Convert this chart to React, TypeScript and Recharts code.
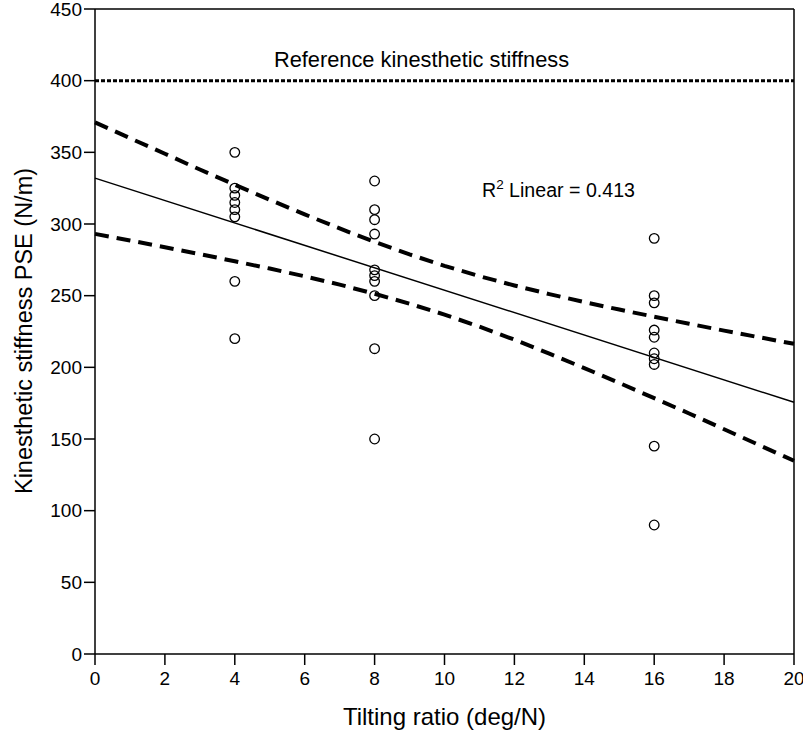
import React from 'react';
import { ComposedChart, XAxis, YAxis, Line, Scatter, ReferenceLine } from 'recharts';

// Tilting ratio groups and observed PSE values (N/m)
const group4: number[] = [350, 325, 320, 315, 310, 305, 260, 220];
const group8: number[] = [330, 310, 303, 293, 268, 264, 260, 250, 213, 150];
const group16: number[] = [290, 250, 245, 226, 221, 210, 206, 202, 145, 90];

// Linear fit endpoints
const fitX: number[] = [0, 20];
const fitY: number[] = [332, 175.6];

// 95% confidence band
const bandX: number[] = [0, 1, 2, 3, 4, 5, 6, 7, 8, 9, 10, 11, 12, 13, 14, 15, 16, 17, 18, 19, 20];
const bandUpper: number[] = [370.9, 359.9, 349.0, 338.0, 327.4, 316.9, 306.7, 296.9, 287.5, 278.8, 270.8, 263.6, 257.1, 251.1, 245.5, 240.3, 235.3, 230.4, 225.6, 221.0, 216.4];
const bandLower: number[] = [293.1, 288.5, 283.8, 279.0, 274.0, 268.9, 263.5, 257.7, 251.3, 244.4, 236.8, 228.4, 219.3, 209.5, 199.5, 189.1, 178.5, 167.8, 156.8, 145.8, 134.8];

const referenceStiffness = 400;
const xTicks: number[] = [0, 2, 4, 6, 8, 10, 12, 14, 16, 18, 20];
const yTicks: number[] = [0, 50, 100, 150, 200, 250, 300, 350, 400, 450];

const points = [
  ...group4.map((y) => ({ x: 4, y })),
  ...group8.map((y) => ({ x: 8, y })),
  ...group16.map((y) => ({ x: 16, y })),
];
const fitData = fitX.map((x, i) => ({ x, y: fitY[i] }));
const upperData = bandX.map((x, i) => ({ x, y: bandUpper[i] }));
const lowerData = bandX.map((x, i) => ({ x, y: bandLower[i] }));

const FONT = '"Liberation Sans", Arial, sans-serif';

const Circle = (p: any) => (
  <circle cx={p.cx} cy={p.cy} r={4.8} fill="none" stroke="#000" strokeWidth={1.3} />
);

export default function App() {
  const tickStyle = { fill: '#000', fontSize: 19, fontFamily: FONT };
  return (
    <div style={{ position: 'absolute', left: 0, top: 0, background: '#fff' }}>
      <ComposedChart
        width={803}
        height={734}
        margin={{ top: 9, right: 9, bottom: 0, left: 0 }}
        data={points}
      >
        <XAxis
          type="number"
          dataKey="x"
          domain={[0, 20]}
          ticks={xTicks}
          interval={0}
          height={80}
          tickSize={11}
          tickMargin={7}
          tick={tickStyle}
          axisLine={{ stroke: '#000', strokeWidth: 1.5 }}
          tickLine={{ stroke: '#000', strokeWidth: 1.5 }}
        />
        <YAxis
          type="number"
          dataKey="y"
          domain={[0, 450]}
          ticks={yTicks}
          interval={0}
          width={95}
          tickSize={11}
          tickMargin={2}
          tick={tickStyle}
          axisLine={{ stroke: '#000', strokeWidth: 1.5 }}
          tickLine={{ stroke: '#000', strokeWidth: 1.5 }}
        />
        <ReferenceLine y={450} stroke="#000" strokeWidth={1.5} ifOverflow="extendDomain" />
        <ReferenceLine x={20} stroke="#000" strokeWidth={1.5} ifOverflow="extendDomain" />
        <ReferenceLine
          y={referenceStiffness}
          stroke="#000"
          strokeWidth={3}
          strokeDasharray="4 2"
          label={(props: any) => {
            const vb = props.viewBox || {};
            return (
              <text
                x={(vb.x ?? 95) + 326.5}
                y={(vb.y ?? 81) - 14}
                textAnchor="middle"
                fontSize={21.8}
                fontFamily={FONT}
                fill="#000"
              >
                Reference kinesthetic stiffness
              </text>
            );
          }}
        />
        <Line data={upperData} dataKey="y" type="linear" stroke="#000" strokeWidth={4} strokeDasharray="14 8" dot={false} activeDot={false} isAnimationActive={false} />
        <Line data={lowerData} dataKey="y" type="linear" stroke="#000" strokeWidth={4} strokeDasharray="14 8" dot={false} activeDot={false} isAnimationActive={false} />
        <Line data={fitData} dataKey="y" type="linear" stroke="#000" strokeWidth={1.5} dot={false} activeDot={false} isAnimationActive={false} />
        <Scatter data={points} dataKey="y" shape={Circle} isAnimationActive={false} />
        <text x={482} y={197} fontSize={19.6} fontFamily={FONT} fill="#000">
          R<tspan dy={-8} fontSize={13.5}>2</tspan>
          <tspan dy={8}> Linear = 0.413</tspan>
        </text>
        <text x={444.5} y={725} textAnchor="middle" fontSize={24} fontFamily={FONT} fill="#000">
          Tilting ratio (deg/N)
        </text>
        <text
          x={32}
          y={331}
          textAnchor="middle"
          fontSize={23.5}
          fontFamily={FONT}
          fill="#000"
          transform="rotate(-90 32 331)"
        >
          Kinesthetic stiffness PSE (N/m)
        </text>
      </ComposedChart>
    </div>
  );
}
